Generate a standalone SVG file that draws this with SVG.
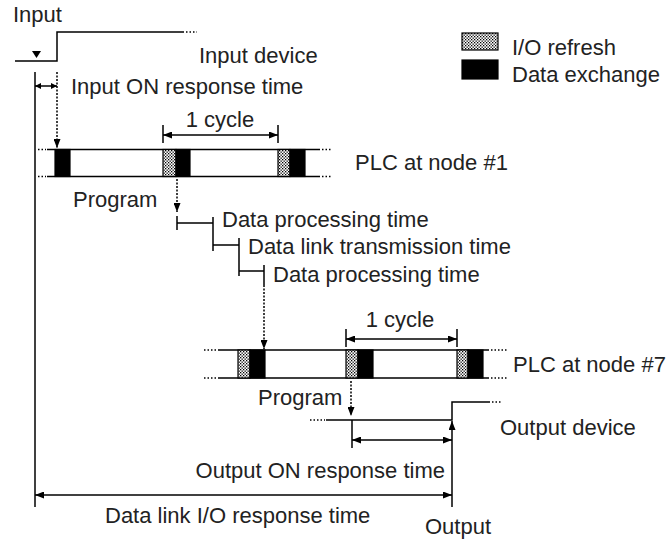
<svg xmlns="http://www.w3.org/2000/svg" width="671" height="540" viewBox="0 0 671 540">
<style>
text{font-family:"Liberation Sans",Arial,sans-serif;font-size:22px;fill:#222}
.ln{stroke:#000;stroke-width:1.5;fill:none}
.dt{stroke:#000;stroke-width:1.5;fill:none;stroke-dasharray:2 1.5}
.dots{stroke:#000;stroke-width:1.5;fill:none;stroke-dasharray:1.5 2}
.blk{fill:#000;stroke:#000;stroke-width:1.2}
.ref{fill:url(#chk);stroke:#000;stroke-width:1.2}
.ar{marker-end:url(#ah)}
.ar2{marker-start:url(#ah);marker-end:url(#ah)}
</style>
<defs>
<pattern id="chk" width="3" height="3" patternUnits="userSpaceOnUse">
<rect width="3" height="3" fill="#fff"/>
<rect width="1.3" height="1.3" fill="#000"/>
<rect x="1.5" y="1.5" width="1.3" height="1.3" fill="#000"/>
</pattern>
<marker id="ah" viewBox="0 0 9 7" refX="9" refY="3.5" markerWidth="9" markerHeight="7" markerUnits="userSpaceOnUse" orient="auto-start-reverse">
<path d="M0,0 L9,3.5 L0,7 z" fill="#000"/>
</marker>
<marker id="ahs" viewBox="0 0 6 6" refX="6" refY="3" markerWidth="6" markerHeight="6" markerUnits="userSpaceOnUse" orient="auto-start-reverse">
<path d="M0,0 L6,3 L0,6 z" fill="#000"/>
</marker>
</defs>

<g id="legend">
<rect class="ref" x="462" y="33" width="36" height="17"/>
<rect class="blk" x="462" y="60" width="36" height="19"/>
<text x="512" y="55">I/O refresh</text>
<text x="512" y="82">Data exchange</text>
</g>

<g id="input-signal">
<text x="13" y="22">Input</text>
<path class="ln" d="M15,61 H57 V32 H184"/>
<path class="dots" d="M186,32 H197"/>
<path d="M32,51 L41,51 L36.5,58 z" fill="#000"/>
<text x="199" y="63">Input device</text>
</g>

<g id="plc1">
<path class="ln" d="M47,149.5 H320 M47,176.5 H320"/>
<path class="dots" d="M38,149.5 H46 M38,176.5 H46 M322,149.5 H331 M322,176.5 H331"/>
<rect class="blk" x="55" y="149.5" width="15" height="27"/>
<rect class="ref" x="163" y="149.5" width="13" height="27"/>
<rect class="blk" x="176" y="149.5" width="14" height="27"/>
<rect class="ref" x="278" y="149.5" width="12" height="27"/>
<rect class="blk" x="290" y="149.5" width="15" height="27"/>
<text x="355" y="170">PLC at node #1</text>
<text x="220" y="127" text-anchor="middle">1 cycle</text>
<text x="73" y="207">Program</text>
</g>

<g id="plc7">
<path class="ln" d="M218,350 H489 M218,378 H489"/>
<path class="dots" d="M204,350 H216 M204,378 H216 M491,350 H507 M491,378 H507"/>
<rect class="ref" x="238" y="350" width="12" height="28"/>
<rect class="blk" x="250" y="350" width="15" height="28"/>
<rect class="ref" x="346" y="350" width="12" height="28"/>
<rect class="blk" x="358" y="350" width="15" height="28"/>
<rect class="ref" x="457" y="350" width="11" height="28"/>
<rect class="blk" x="468" y="350" width="15" height="28"/>
<text x="513" y="372">PLC at node #7</text>
<text x="400" y="327" text-anchor="middle">1 cycle</text>
<text x="258" y="405">Program</text>
</g>

<g id="output-signal">
<path class="dots" d="M310,420 H325"/>
<path class="ln" d="M326,420 H452 V402 H490"/>
<path class="dots" d="M492,402 H501"/>
<text x="500" y="435">Output device</text>
<text x="425" y="534">Output</text>
</g>

<g id="timing-labels">
<text x="71" y="94">Input ON response time</text>
<text x="222" y="227">Data processing time</text>
<text x="248" y="254">Data link transmission time</text>
<text x="273" y="282">Data processing time</text>
<text x="445" y="478" text-anchor="end">Output ON response time</text>
<text x="105" y="523">Data link I/O response time</text>
</g>

<g id="connectors">
<path class="ln" d="M35,72 V507"/>
<path class="dt ar" d="M57,72 V148"/>
<path class="ln" d="M35,86 H57" marker-start="url(#ahs)" marker-end="url(#ahs)"/>
<path class="ln" d="M163,125 V143 M278,125 V143"/>
<path class="ln ar2" d="M163,135 H278"/>
<path class="dt ar" d="M177,179 V212"/>
<path class="ln" d="M177,216 V230 M177,223 H213 M213,217 V251 M213,245 H239 M239,238 V276 M239,271 H264 M264,265 V285"/>
<path class="dt ar" d="M264,285 V349"/>
<path class="ln" d="M346,329 V347 M457,329 V347"/>
<path class="ln ar2" d="M346,339 H457"/>
<path class="dt ar" d="M351,381 V416"/>
<path class="ln" d="M352,420 V448"/>
<path class="ln ar2" d="M352,440 H452"/>
<path class="ln ar" d="M452,507 V421"/>
<path class="ln ar2" d="M35,495 H452"/>
</g>
</svg>
